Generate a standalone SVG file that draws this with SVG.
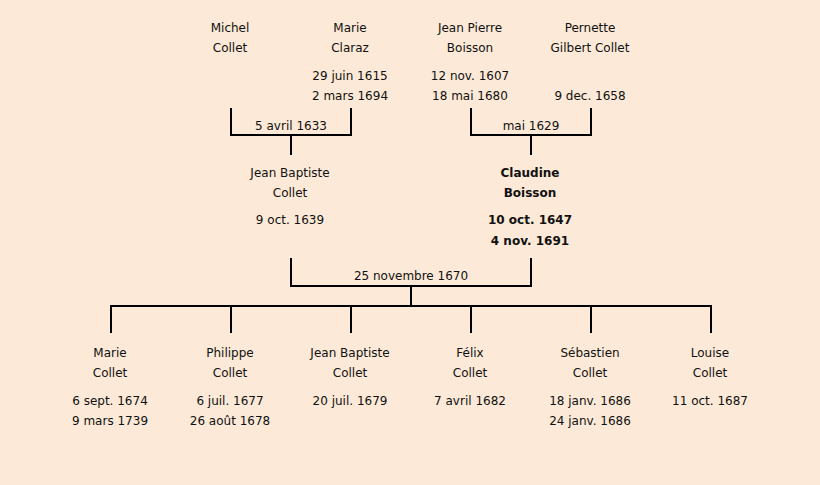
<svg xmlns="http://www.w3.org/2000/svg" width="820" height="485" viewBox="0 0 820 485">
<style>
text{font-family:"DejaVu Sans","Liberation Sans",sans-serif;font-size:12px;fill:#111;text-anchor:middle}
.b{font-weight:bold}
.ln{stroke:#000;stroke-width:2;fill:none}
</style>
<rect width="820" height="485" fill="#FCE9D7"/>
<g id="connectors">
<path class="ln" d="M231,108V135H351V108M291,135V155"/>
<path class="ln" d="M471,108V135H591V108M531,135V155"/>
<path class="ln" d="M291,258V286H531V258M411,286V306"/>
<path class="ln" d="M111,333V306H711V333M231,306V333M351,306V333M471,306V333M591,306V333"/>
<text x="291" y="130">5 avril 1633</text>
<text x="531" y="130">mai 1629</text>
<text x="411" y="280">25 novembre 1670</text>
</g>
<g id="michel"><text x="230" y="32">Michel</text><text x="230" y="52">Collet</text></g>
<g id="marie-claraz"><text x="350" y="32">Marie</text><text x="350" y="52">Claraz</text><text x="350" y="80">29 juin 1615</text><text x="350" y="100">2 mars 1694</text></g>
<g id="jean-pierre"><text x="470" y="32">Jean Pierre</text><text x="470" y="52">Boisson</text><text x="470" y="80">12 nov. 1607</text><text x="470" y="100">18 mai 1680</text></g>
<g id="pernette"><text x="590" y="32">Pernette</text><text x="590" y="52">Gilbert Collet</text><text x="590" y="100">9 dec. 1658</text></g>
<g id="jean-baptiste"><text x="290" y="177">Jean Baptiste</text><text x="290" y="197">Collet</text><text x="290" y="224">9 oct. 1639</text></g>
<g id="claudine" class="b"><text class="b" x="530" y="177">Claudine</text><text class="b" x="530" y="197">Boisson</text><text class="b" x="530" y="224">10 oct. 1647</text><text class="b" x="530" y="245">4 nov. 1691</text></g>
<g id="marie"><text x="110" y="357">Marie</text><text x="110" y="377">Collet</text><text x="110" y="405">6 sept. 1674</text><text x="110" y="425">9 mars 1739</text></g>
<g id="philippe"><text x="230" y="357">Philippe</text><text x="230" y="377">Collet</text><text x="230" y="405">6 juil. 1677</text><text x="230" y="425">26 août 1678</text></g>
<g id="jean-baptiste-2"><text x="350" y="357">Jean Baptiste</text><text x="350" y="377">Collet</text><text x="350" y="405">20 juil. 1679</text></g>
<g id="felix"><text x="470" y="357">Félix</text><text x="470" y="377">Collet</text><text x="470" y="405">7 avril 1682</text></g>
<g id="sebastien"><text x="590" y="357">Sébastien</text><text x="590" y="377">Collet</text><text x="590" y="405">18 janv. 1686</text><text x="590" y="425">24 janv. 1686</text></g>
<g id="louise"><text x="710" y="357">Louise</text><text x="710" y="377">Collet</text><text x="710" y="405">11 oct. 1687</text></g>
</svg>
